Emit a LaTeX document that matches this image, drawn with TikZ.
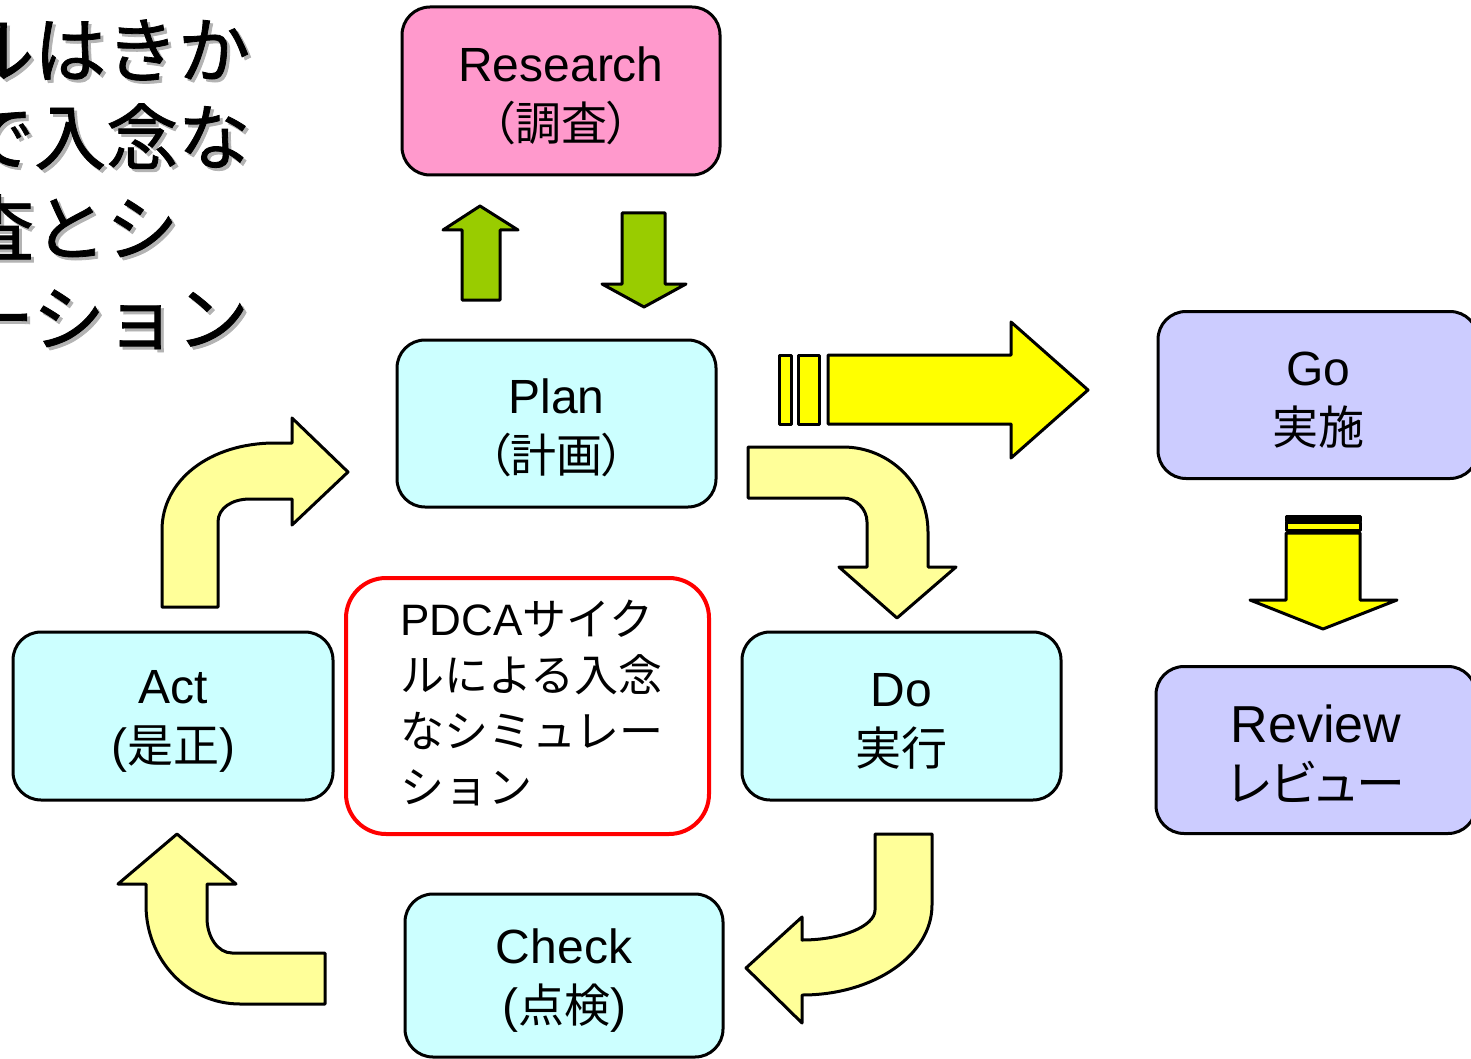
\documentclass[tikz,border=0pt]{standalone}
\usepackage{fontspec}
\setmainfont{Liberation Sans}
\newfontfamily\jp{Noto Sans CJK JP}
\newfontfamily\jpp{Noto Sans CJK JP}[RawFeature=+palt]
\newfontfamily\jph{Noto Sans CJK JP}[FakeBold=1.1]

\definecolor{researchfill}{HTML}{FF99CC}
\definecolor{stepfill}{HTML}{CCFFFF}
\definecolor{gofill}{HTML}{CCCCFF}
\definecolor{greenarrow}{HTML}{99CC00}
\definecolor{brightyellow}{HTML}{FFFF00}
\definecolor{paleyellow}{HTML}{FFFF99}
\definecolor{memored}{HTML}{FF0000}
\definecolor{shadowgray}{HTML}{B3B3B3}

% Japanese run inside a box label, set a little smaller than the Latin line
\newcommand\jbox[1]{{\jp\fontsize{46}{59}\selectfont #1}}
\newcommand\jboxp[1]{{\jpp\fontsize{46}{59}\selectfont #1}}
% extra head room on the first line of a box label
\newcommand\firststrut{\rule{0pt}{44pt}}

\tikzset{
  stepbox/.style={draw=black, line width=3pt, rounded corners=28pt,
    minimum width=319pt, minimum height=167pt, inner sep=0pt,
    align=center, font=\fontsize{48}{59}\selectfont},
  blockarrow/.style={draw=black, line width=3pt, line join=round},
  titleline/.style={anchor=base west, inner sep=0pt, font=\jph\fontsize{72}{72}\selectfont},
}

\begin{document}
\begin{tikzpicture}[x=1pt, y=-1pt]
\useasboundingbox (0,0) rectangle (1471,1059);
\clip (0,0) rectangle (1471,1059);

% heading, partly off the page, with a soft gray drop shadow
\foreach \txt/\yy/\nm in {ルはきか/77/ta, で入念な/164/tb, 査とシ/255/tc, ーション/345/td}{
  \node[titleline, text=shadowgray] (\nm s) at (-35,\yy+3) {\txt};
  \node[titleline] (\nm) at (-38,\yy) {\txt};
}

% boxes
\node[stepbox, fill=researchfill, minimum width=318pt, minimum height=168pt] (research) at (561,91)
  {\firststrut Research\\\jboxp{（調査）}};
\node[stepbox, fill=stepfill] (plan) at (556.5,423.5) {\firststrut Plan\\\jboxp{（計画）}};
\node[stepbox, fill=gofill, minimum width=320pt] (go) at (1318,395) {\firststrut Go\\\jbox{実施}};
\node[stepbox, fill=gofill, minimum width=320pt, font=\fontsize{52}{59}\selectfont] (review) at (1316,750)
  {\rule{0pt}{46pt}Review\\{\jpp\fontsize{49}{59}\selectfont レビュー}};
\node[stepbox, fill=stepfill, minimum width=320pt, minimum height=168pt] (act) at (173,716)
  {\firststrut Act\\(\jbox{是正})};
\node[stepbox, fill=stepfill, minimum height=168pt] (do) at (901.5,716) {\firststrut Do\\\jbox{実行}};
\node[stepbox, fill=stepfill, minimum width=318pt, minimum height=163pt] (check) at (564,975.5)
  {\firststrut Check\\(\jbox{点検})};

% memo box
\node[draw=memored, fill=white, line width=4pt, rounded corners=40pt,
  minimum width=363pt, minimum height=256pt, inner sep=0pt] (memo) at (527.5,706) {};
\node[anchor=west, align=left, inner sep=0pt, font=\fontsize{44}{56}\selectfont] (memotext) at (400,703)
  {PDCA{\jp サイク}\\{\jp ルによる入念}\\{\jp なシミュレー}\\{\jp ション}};

% green arrows between Plan and Research
\draw[blockarrow, fill=greenarrow] (462,300) -- (462,230) -- (443,230) -- (480,206)
  -- (518,230) -- (500,230) -- (500,300) -- cycle;
\draw[blockarrow, fill=greenarrow] (622,213) -- (665,213) -- (665,284) -- (686,284)
  -- (644,307) -- (602,284) -- (622,284) -- cycle;

% striped arrow Plan -> Go
\draw[blockarrow, fill=brightyellow] (779,355) rectangle (791,424);
\draw[blockarrow, fill=brightyellow] (798,355) rectangle (819,424);
\draw[blockarrow, fill=brightyellow] (828,355) -- (1011,355) -- (1011,322) -- (1088,390)
  -- (1011,458) -- (1011,424) -- (828,424) -- cycle;

% striped arrow Go -> Review
\draw[blockarrow, fill=black] (1286,516.5) rectangle (1360,521);
\draw[blockarrow, fill=brightyellow] (1286,522) rectangle (1360,530);
\draw[blockarrow, fill=brightyellow] (1286,533) -- (1360,533) -- (1360,600) -- (1397,600)
  -- (1323,629) -- (1250,600) -- (1286,600) -- cycle;

% curved arrow Plan -> Do
\draw[blockarrow, fill=paleyellow] (748,447) -- (843,447)
  .. controls (890,447) and (928,485) .. (928,532) -- (928,567) -- (956,567)
  -- (897,618) -- (839,567) -- (867,567) -- (867,522)
  .. controls (867,509) and (856,498) .. (843,498) -- (748,498) -- cycle;

% curved arrow Do -> Check
\draw[blockarrow, fill=paleyellow] (875,834) -- (932,834) -- (932,905)
  .. controls (932,955) and (874,995) .. (802,995) -- (802,1023) -- (746,968)
  -- (802,917) -- (802,940) .. controls (842,940) and (875,926) .. (875,910) -- cycle;

% curved arrow Check -> Act
\draw[blockarrow, fill=paleyellow] (177,834) -- (236,884) -- (207,884) -- (207,918)
  .. controls (207,937) and (218,953) .. (232,953) -- (325,953) -- (325,1004)
  -- (240,1004) .. controls (188,1004) and (146,960) .. (146,905) -- (146,884)
  -- (118,884) -- cycle;

% curved arrow Act -> Plan
\draw[blockarrow, fill=paleyellow] (162,607) -- (162,530)
  .. controls (162,480) and (210,443) .. (275,443) -- (292,443) -- (292,418)
  -- (348,472) -- (292,525) -- (292,499) -- (250,499)
  .. controls (232,499) and (218,508) .. (218,522) -- (218,607) -- cycle;
\end{tikzpicture}
\end{document}
